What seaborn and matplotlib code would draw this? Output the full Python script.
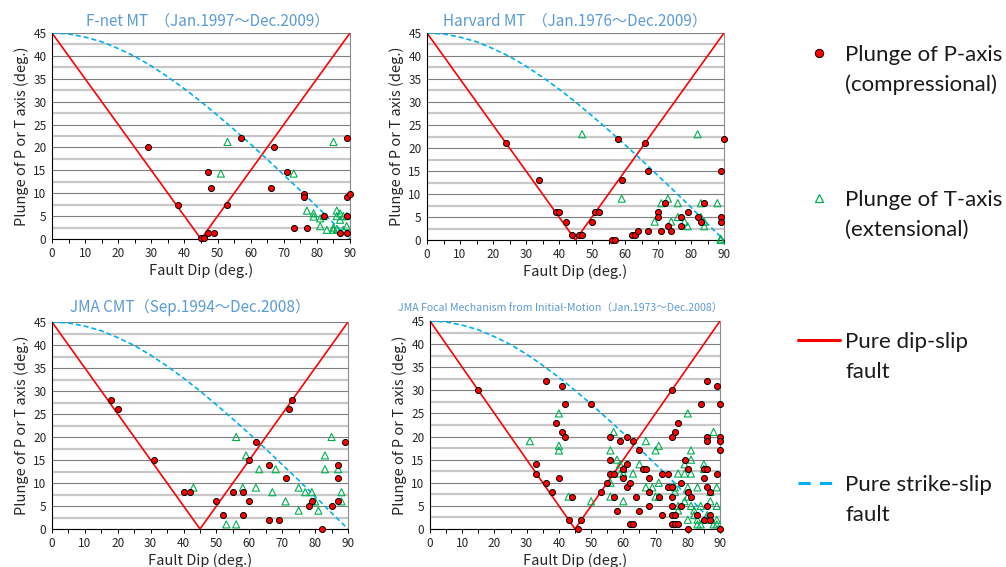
import matplotlib
matplotlib.use("Agg")
import matplotlib.pyplot as plt
from matplotlib.ticker import MultipleLocator
from matplotlib.lines import Line2D
import pandas as pd
import seaborn as sns

# ---- reference curves -------------------------------------------------------
dip_slip_dip = [0, 45, 90]
dip_slip_plunge = [45, 0, 45]
strike_slip_dip = [0, 5, 10, 15, 20, 25, 30, 35, 40, 45, 50, 55, 60, 65, 70, 75, 80, 85, 90]
strike_slip_plunge = [45.0, 44.8, 44.1, 43.1, 41.6, 39.9, 37.8, 35.4, 32.8, 30.0,
                      27.0, 23.9, 20.7, 17.4, 14.0, 10.6, 7.1, 3.5, 0.0]

# ---- F-net MT ---------------------------------------------------------------
fnet_p_dip = [29, 38, 45, 46, 47, 49, 47, 48, 53, 57, 66, 67, 71, 73, 77, 76, 76,
              82, 87, 89, 89, 89, 90, 89]
fnet_p_plunge = [20.1, 7.4, 0.3, 0.3, 1.3, 1.3, 14.6, 11.2, 7.4, 22.0, 11.2, 20.1,
                 14.6, 2.4, 2.4, 9.8, 9.2, 5.0, 1.3, 1.3, 22.0, 9.2, 9.8, 5.0]
fnet_t_dip = [53, 51, 73, 85, 77, 79, 79, 81, 81, 82, 83, 85, 85, 86, 86, 87, 87,
              88, 88, 89, 89, 86]
fnet_t_plunge = [21.2, 14.3, 14.3, 21.2, 6.2, 5.6, 4.9, 4.5, 2.8, 5.0, 2.0, 2.5,
                 2.0, 6.2, 5.0, 5.6, 4.2, 5.0, 2.0, 2.8, 5.0, 2.2]

# ---- Harvard MT -------------------------------------------------------------
harv_p_dip = [24, 34, 39, 40, 42, 44, 46, 47, 50, 51, 52, 56, 57, 58, 59, 62, 63,
              64, 66, 67, 67, 70, 70, 71, 72, 73, 74, 77, 77, 79, 82, 83, 84, 89,
              89, 89, 90]
harv_p_plunge = [21, 13, 6, 6, 4, 1, 1, 1, 4, 6, 6, 0, 0, 22, 13, 1, 1, 2, 21, 15,
                 2, 6, 5, 2, 8, 3, 2, 5, 3, 6, 5, 4, 8, 15, 5, 4, 22]
harv_t_dip = [47, 59, 69, 71, 73, 74, 76, 76, 78, 79, 82, 83, 83, 84, 84, 88, 89, 89]
harv_t_plunge = [23, 9, 4, 8, 9, 4, 8, 5, 4, 3, 23, 8, 5, 4, 3, 8, 0, 0.3]

# ---- JMA CMT ----------------------------------------------------------------
cmt_p_dip = [18, 20, 31, 40, 42, 50, 52, 55, 58, 58, 60, 60, 62, 66, 66, 69, 71,
             72, 73, 78, 79, 82, 85, 87, 87, 87, 89]
cmt_p_plunge = [28, 26, 15, 8, 8, 6, 3, 8, 8, 3, 15, 6, 19, 14, 2, 2, 11, 26, 28,
                5, 6, 0, 5, 14, 11, 6, 19]
cmt_t_dip = [43, 53, 56, 56, 58, 59, 62, 63, 67, 68, 71, 75, 75, 77, 79, 79, 80,
             81, 83, 83, 85, 87, 88, 88]
cmt_t_plunge = [9, 1, 1, 20, 9, 16, 9, 13, 8, 13, 6, 9, 4, 8, 8, 6, 6, 4, 16, 13,
                20, 13, 8, 6]

# ---- JMA focal mechanism from initial motion --------------------------------
init_p_dip = [15, 36, 41, 42, 50, 39, 41, 42, 33, 33, 40, 36, 38, 44, 43, 46, 47,
              53, 55, 56, 56, 56, 57, 57, 58, 59, 60, 60, 61, 61, 61, 62, 62, 63,
              63, 64, 65, 65, 66, 67, 68, 68, 68, 71, 72, 72, 74, 74, 75, 75, 75,
              75, 75, 75, 75, 76, 76, 76, 77, 77, 78, 78, 79, 80, 80, 80, 81, 83,
              84, 85, 85, 85, 86, 86, 86, 86, 86, 86, 87, 87, 87, 89, 89, 90, 90,
              90, 90, 90]
init_p_plunge = [30, 32, 31, 27, 27, 23, 21, 20, 14, 12, 11, 10, 8, 7, 2, 0, 2,
                 8, 10, 20, 15, 12, 12, 7, 4, 19, 13, 11, 14, 9, 20, 10, 1, 1,
                 19, 7, 17, 4, 13, 13, 11, 8, 5, 7, 12, 3, 12, 9, 9, 30, 20, 7,
                 5, 3, 1, 21, 3, 1, 23, 1, 10, 5, 15, 13, 8, 0, 7, 3, 27, 13, 11,
                 2, 32, 20, 19, 13, 9, 5, 3, 2, 8, 31, 12, 27, 20, 19, 17, 0]
init_t_dip = [31, 40, 40, 40, 43, 50, 56, 56, 56, 57, 58, 59, 59, 60, 60, 60, 63,
              65, 67, 67, 69, 70, 70, 71, 71, 71, 76, 76, 77, 77, 77, 79, 79, 79,
              80, 80, 80, 80, 81, 81, 81, 81, 82, 82, 83, 83, 83, 84, 84, 85, 85,
              86, 86, 87, 87, 88, 88, 89, 89, 89, 89]
init_t_plunge = [19, 25, 18, 17, 7, 6, 17, 10, 7, 21, 15, 14, 12, 13, 12, 6, 12,
                 14, 19, 9, 9, 17, 7, 18, 10, 7, 9, 8, 12, 5, 4, 14, 12, 6, 25,
                 9, 7, 2, 17, 15, 12, 5, 4, 3, 9, 2, 1, 1, 5, 14, 13, 3, 2, 8, 6,
                 21, 1, 9, 5, 2, 1]

titles = [
    "F-net MT  （Jan.1997～Dec.2009）",
    "Harvard MT  （Jan.1976～Dec.2009）",
    "JMA CMT（Sep.1994～Dec.2008）",
    "JMA Focal Mechanism from Initial-Motion（Jan.1973～Dec.2008）",
]
legend_lines = [
    ("Plunge of P-axis", "(compressional)"),
    ("Plunge of T-axis", "(extensional)"),
    ("Pure dip-slip", "fault"),
    ("Pure strike-slip", "fault"),
]

panels = [
    (fnet_p_dip, fnet_p_plunge, fnet_t_dip, fnet_t_plunge),
    (harv_p_dip, harv_p_plunge, harv_t_dip, harv_t_plunge),
    (cmt_p_dip, cmt_p_plunge, cmt_t_dip, cmt_t_plunge),
    (init_p_dip, init_p_plunge, init_t_dip, init_t_plunge),
]

# ---- styling ----------------------------------------------------------------
sns.set_style("white")
plt.rcParams["font.family"] = ["Noto Sans CJK JP", "DejaVu Sans"]

RED = "#FF0000"
GREEN = "#00B050"
CYAN = "#00B0F0"
TITLE_BLUE = "#5B9BD5"

W, H = 1006, 567
fig = plt.figure(figsize=(W / 100, H / 100), dpi=100)

# axes boxes in pixels: left, top, right, bottom
boxes = [(52, 33, 350, 239), (427, 33, 724, 240), (52, 322, 348, 529), (430, 321, 720, 529)]
title_sizes = [11, 11, 11, 7.6]
title_pads = [5.5, 5.5, 7.0, 7.5]
title_x = [0.523, 0.498, 0.466, 0.448]

for i, ((l, t, r, b), data) in enumerate(zip(boxes, panels)):
    ax = fig.add_axes([l / W, 1 - b / H, (r - l) / W, (b - t) / H])
    p_dip, p_pl, t_dip, t_pl = data

    ax.set_xlim(0, 90)
    ax.set_ylim(0, 45)
    ax.set_yticks(range(0, 46, 5))
    ax.yaxis.set_minor_locator(MultipleLocator(2.5))
    ax.set_xticks(range(0, 91, 10))
    ax.xaxis.set_minor_locator(MultipleLocator(5))
    ax.grid(which="minor", axis="y", color="#C8C8C8", lw=1.6, zorder=0)
    ax.grid(which="major", axis="y", color="#7F7F7F", lw=0.8, zorder=0)
    ax.set_axisbelow(True)

    for side in ("left", "bottom"):
        ax.spines[side].set_color("black")
        ax.spines[side].set_linewidth(0.8)
    ax.spines["right"].set_color("#8C8C8C")
    ax.spines["right"].set_linewidth(0.8)
    ax.spines["top"].set_visible(False)

    ax.tick_params(axis="x", which="both", direction="out", length=3, width=0.7,
                   color="black", labelsize=8.5, pad=3, bottom=True)
    ax.tick_params(axis="y", which="both", length=0, labelsize=8.5, pad=4)

    sns.lineplot(x=dip_slip_dip, y=dip_slip_plunge, color=RED, lw=1.2,
                 estimator=None, ax=ax, zorder=2)
    sns.lineplot(x=strike_slip_dip, y=strike_slip_plunge, color=CYAN, lw=1.2,
                 linestyle=(0, (3, 1.8)), estimator=None, ax=ax, zorder=2)

    sns.scatterplot(x=t_dip, y=t_pl, marker="^", s=26, color="none",
                    edgecolor=GREEN, linewidth=0.8, ax=ax, zorder=3, clip_on=False)
    sns.scatterplot(x=p_dip, y=p_pl, marker="o", s=19, color=RED,
                    edgecolor="black", linewidth=0.7, ax=ax, zorder=4, clip_on=False)

    ax.set_xlabel("Fault Dip (deg.)", fontsize=10.5, labelpad=2)
    ax.set_ylabel("Plunge of P or T axis (deg.)", fontsize=10.5, labelpad=3)
    ax.set_title(titles[i], color=TITLE_BLUE, fontsize=title_sizes[i],
                 pad=title_pads[i], x=title_x[i])

# ---- legend on the right ----------------------------------------------------
handles = [
    Line2D([], [], marker="o", ls="none", markersize=6, markerfacecolor=RED,
           markeredgecolor="black", markeredgewidth=0.7),
    Line2D([], [], marker="^", ls="none", markersize=6, markerfacecolor="none",
           markeredgecolor=GREEN, markeredgewidth=0.9),
    Line2D([], [], color=RED, lw=2.2),
    Line2D([], [], color=CYAN, lw=2.2, ls=(0, (4, 3))),
]
first_y = [55, 200, 342, 485]
leg_fs = 16
for h, (l1, l2), y in zip(handles, legend_lines, first_y):
    fig.legend(handles=[h], labels=[l1], loc="center left",
               bbox_to_anchor=(798 / W, 1 - y / H), frameon=False,
               borderpad=0, borderaxespad=0, handlelength=1.9,
               handletextpad=0.22, prop={"family": "Lato", "size": leg_fs},
               labelcolor="#1A1A1A")
    fig.text(845 / W, 1 - (y + 30) / H, l2, family="Lato", size=leg_fs,
             color="#1A1A1A", va="center", ha="left")

fig.savefig("out.png", dpi=100)
